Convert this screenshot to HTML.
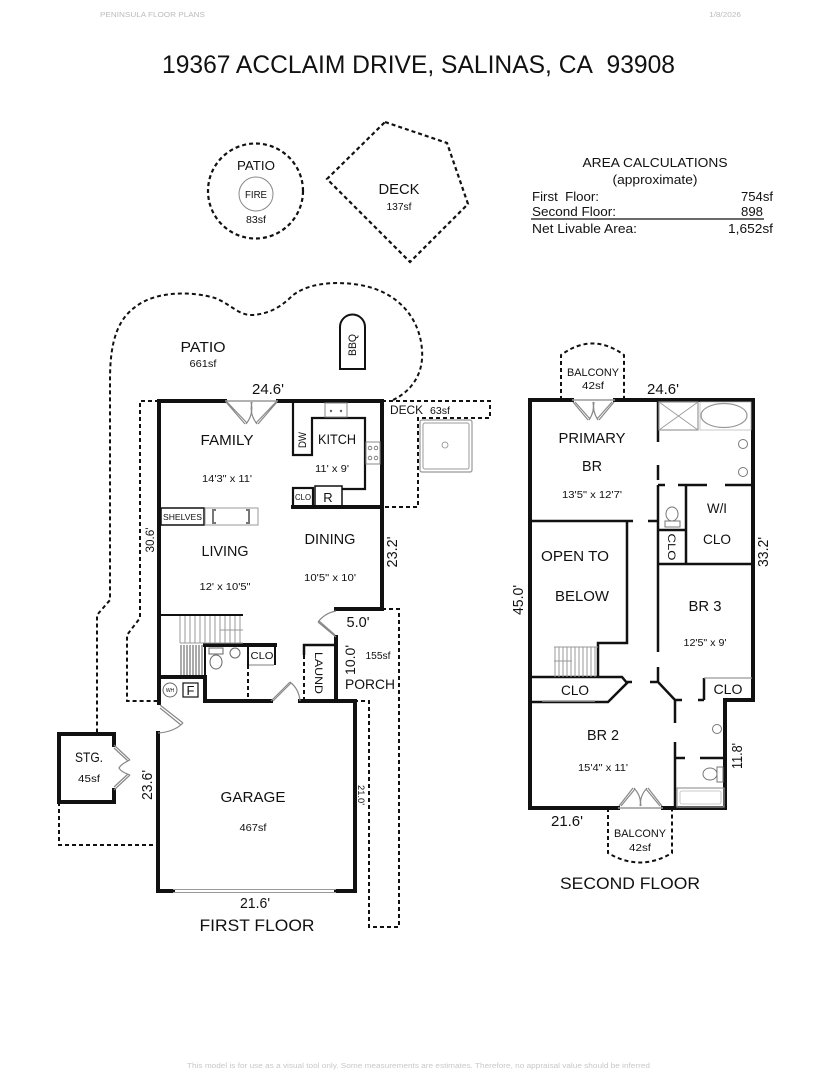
<!DOCTYPE html>
<html><head><meta charset="utf-8"><style>
html,body{margin:0;padding:0;background:#fff;}
svg{display:block;}
text{font-family:"Liberation Sans",Arial,sans-serif;fill:#111;}
</style></head><body>
<svg width="835" height="1080" viewBox="0 0 835 1080" xmlns="http://www.w3.org/2000/svg">
<!-- header -->
<text x="100" y="17" font-size="7" style="fill:#bbb" textLength="105" lengthAdjust="spacingAndGlyphs">PENINSULA FLOOR PLANS</text>
<text x="709" y="17" font-size="7" style="fill:#bbb" textLength="32" lengthAdjust="spacingAndGlyphs">1/8/2026</text>
<text x="162" y="73" font-size="25" textLength="513" lengthAdjust="spacingAndGlyphs">19367 ACCLAIM DRIVE, SALINAS, CA&#160; 93908</text>

<!-- top patio & deck -->
<g fill="none" stroke="#111" stroke-width="2.2" stroke-dasharray="4,3">
<circle cx="255.5" cy="191" r="47.5"/>
<polygon points="385,122 447,143 468,204 410,262 327,179"/>
</g>
<circle cx="256" cy="194" r="17" fill="none" stroke="#888" stroke-width="1"/>
<text x="256" y="170" font-size="13" text-anchor="middle" textLength="38" lengthAdjust="spacingAndGlyphs">PATIO</text>
<text x="256" y="198" font-size="10" text-anchor="middle" textLength="22" lengthAdjust="spacingAndGlyphs">FIRE</text>
<text x="256" y="223" font-size="10" text-anchor="middle" textLength="20" lengthAdjust="spacingAndGlyphs">83sf</text>
<text x="399" y="194" font-size="15" text-anchor="middle" textLength="41" lengthAdjust="spacingAndGlyphs">DECK</text>
<text x="399" y="210" font-size="10" text-anchor="middle" textLength="25" lengthAdjust="spacingAndGlyphs">137sf</text>

<!-- area calc -->
<text x="655" y="167" font-size="13" text-anchor="middle" textLength="145" lengthAdjust="spacingAndGlyphs">AREA CALCULATIONS</text>
<text x="655" y="184" font-size="13" text-anchor="middle" textLength="85" lengthAdjust="spacingAndGlyphs">(approximate)</text>
<text x="532" y="201" font-size="12.5" textLength="67" lengthAdjust="spacingAndGlyphs">First&#160; Floor:</text>
<text x="773" y="201" font-size="12.5" text-anchor="end" textLength="32" lengthAdjust="spacingAndGlyphs">754sf</text>
<text x="532" y="216" font-size="12.5" textLength="84" lengthAdjust="spacingAndGlyphs">Second Floor:</text>
<text x="763" y="216" font-size="12.5" text-anchor="end" textLength="22" lengthAdjust="spacingAndGlyphs">898</text>
<line x1="531" y1="219" x2="764" y2="219" stroke="#111" stroke-width="1.3"/>
<text x="532" y="233" font-size="12.5" textLength="105" lengthAdjust="spacingAndGlyphs">Net Livable Area:</text>
<text x="773" y="233" font-size="12.5" text-anchor="end" textLength="45" lengthAdjust="spacingAndGlyphs">1,652sf</text>

<!-- ================= FIRST FLOOR ================= -->
<g fill="none" stroke="#111" stroke-width="2" stroke-dasharray="4,3">
<path d="M393,400 C410,392 424,375 422,350 C420,320 400,292 360,285 C330,280 305,285 292,296 C280,308 268,314 252,315 C238,315 232,305 215,298 C195,292 160,290 138,305 C118,318 110,340 110,380 L110,600 L97,615 L97,733"/>
<path d="M159,401 L140,401 L140,618 L127,635 L127,701 L159,701"/>
<path d="M59,802 L59,845 L158,845"/>
<path d="M382,401 L490,401 L490,418 L418,418 L418,507 L382,507"/>
<path d="M382,609 L399,609 L399,927 L369,927 L369,701 L355,701"/>
<path d="M304,655 L304,701"/>
<path d="M248,665 L248,701"/>
</g>

<!-- BBQ -->
<path d="M340,369 L340,327 A12.5,12.5 0 0 1 365,327 L365,369 Z" fill="none" stroke="#111" stroke-width="2"/>
<text transform="translate(356,345) rotate(-90)" font-size="11" text-anchor="middle" textLength="22" lengthAdjust="spacingAndGlyphs">BBQ</text>
<text x="203" y="352" font-size="15" text-anchor="middle" textLength="45" lengthAdjust="spacingAndGlyphs">PATIO</text>
<text x="203" y="367" font-size="10" text-anchor="middle" textLength="27" lengthAdjust="spacingAndGlyphs">661sf</text>
<text x="268" y="394" font-size="15" text-anchor="middle" textLength="32" lengthAdjust="spacingAndGlyphs">24.6'</text>
<text x="390" y="414" font-size="12" textLength="33" lengthAdjust="spacingAndGlyphs">DECK</text>
<text x="430" y="414" font-size="10" textLength="20" lengthAdjust="spacingAndGlyphs">63sf</text>
<rect x="420" y="420" width="52" height="52" rx="2" fill="none" stroke="#999" stroke-width="1.2"/>
<rect x="423" y="423" width="46" height="46" rx="2" fill="none" stroke="#999" stroke-width="1"/>
<circle cx="445" cy="445" r="3" fill="none" stroke="#888" stroke-width="0.8"/>

<!-- main walls -->
<g fill="none" stroke="#111" stroke-width="4" stroke-linecap="square">
<path d="M159,401 L225,401 M278,401 L382,401 L382,609 L336,609"/>
<path d="M336,637 L336,701"/>
<path d="M159,401 L159,703"/>
<path d="M159,677 L205,677 L205,701 L271,701 M300,701 L355,701 L355,891 L336,891 M173,891 L158,891 L158,733"/>
<path d="M293,507 L382,507"/>
<path d="M205,645 L275,645"/>
<path d="M59,734 L114,734 L114,745 M59,734 L59,802 L114,802 L114,790"/>
</g>
<line x1="173" y1="889.5" x2="336" y2="889.5" stroke="#999" stroke-width="1"/>
<line x1="173" y1="892.5" x2="336" y2="892.5" stroke="#999" stroke-width="1"/>
<line x1="225" y1="401" x2="278" y2="401" stroke="#999" stroke-width="1.5"/>
<g fill="none" stroke="#888" stroke-width="1.2">
<path d="M226,402 L245,424 M227,402 L247,423"/>
<path d="M277,402 L258,424 M276,402 L256,423"/>
<path d="M246,424 Q254,414 251,402"/>
<path d="M257,424 Q249,414 252,402"/>
<path d="M336,637 L318,622 M335,635 L319,621"/>
<path d="M318,622 Q325,613 336,611"/>
<path d="M271,701 L290,682 M273,701 L291,683"/>
<path d="M290,682 Q299,689 300,701"/>
<path d="M160,705 L183,723 M160,708 L181,725"/>
<path d="M183,723 Q174,732 158,733"/>
<path d="M114,745 L130,760 M114,748 L128,761"/>
<path d="M114,790 L130,775 M114,787 L128,774"/>
<path d="M130,760 Q121,764 119,768 Q121,772 130,775"/>
</g>

<!-- kitchen -->
<g fill="none" stroke="#111" stroke-width="2.2">
<path d="M293,401 L293,455 L312,455 L312,418 L365,418 L365,489 L342,489"/>
<rect x="293" y="488" width="20" height="19"/>
<rect x="315" y="486" width="27" height="21" stroke-width="1.5"/>
</g>
<rect x="325" y="403" width="22" height="14" fill="none" stroke="#888" stroke-width="1"/>
<circle cx="331" cy="411" r="1.2" fill="#666"/><circle cx="341" cy="411" r="1.2" fill="#666"/>
<rect x="366" y="442" width="14" height="22" fill="none" stroke="#888" stroke-width="1"/>
<circle cx="370" cy="448" r="1.8" fill="none" stroke="#666" stroke-width="0.8"/><circle cx="376" cy="448" r="1.8" fill="none" stroke="#666" stroke-width="0.8"/>
<circle cx="370" cy="458" r="1.8" fill="none" stroke="#666" stroke-width="0.8"/><circle cx="376" cy="458" r="1.8" fill="none" stroke="#666" stroke-width="0.8"/>
<text transform="translate(306,440) rotate(-90)" font-size="11" text-anchor="middle" textLength="16" lengthAdjust="spacingAndGlyphs">DW</text>
<text x="337" y="444" font-size="14" text-anchor="middle" textLength="38" lengthAdjust="spacingAndGlyphs">KITCH</text>
<text x="332" y="472" font-size="10" text-anchor="middle" textLength="34" lengthAdjust="spacingAndGlyphs">11' x 9'</text>
<text x="303" y="500" font-size="8" text-anchor="middle" textLength="16" lengthAdjust="spacingAndGlyphs">CLO</text>
<text x="328" y="502" font-size="13" text-anchor="middle">R</text>

<text x="227" y="445" font-size="15" text-anchor="middle" textLength="53" lengthAdjust="spacingAndGlyphs">FAMILY</text>
<text x="227" y="482" font-size="10" text-anchor="middle" textLength="50" lengthAdjust="spacingAndGlyphs">14'3" x 11'</text>

<rect x="161" y="508" width="43" height="17" fill="none" stroke="#111" stroke-width="1.5"/>
<text x="182.5" y="520" font-size="8" text-anchor="middle" textLength="39" lengthAdjust="spacingAndGlyphs">SHELVES</text>
<rect x="205" y="508" width="53" height="17" fill="none" stroke="#999" stroke-width="1"/>
<path d="M216,510 L213,510 L213,523 L216,523 M246,510 L249,510 L249,523 L246,523" fill="none" stroke="#777" stroke-width="2"/>

<text x="225" y="556" font-size="15" text-anchor="middle" textLength="47" lengthAdjust="spacingAndGlyphs">LIVING</text>
<text x="225" y="590" font-size="10" text-anchor="middle" textLength="51" lengthAdjust="spacingAndGlyphs">12' x 10'5"</text>
<text x="330" y="544" font-size="15" text-anchor="middle" textLength="51" lengthAdjust="spacingAndGlyphs">DINING</text>
<text x="330" y="581" font-size="10" text-anchor="middle" textLength="52" lengthAdjust="spacingAndGlyphs">10'5" x 10'</text>
<text transform="translate(154,540) rotate(-90)" font-size="12" text-anchor="middle" textLength="25" lengthAdjust="spacingAndGlyphs">30.6'</text>
<text transform="translate(397,552) rotate(-90)" font-size="15" text-anchor="middle" textLength="31" lengthAdjust="spacingAndGlyphs">23.2'</text>

<!-- stairs -->
<line x1="159" y1="615" x2="243" y2="615" stroke="#111" stroke-width="2"/>
<g stroke="#999" stroke-width="1">
<line x1="180" y1="616" x2="180" y2="643"/><line x1="185" y1="616" x2="185" y2="643"/><line x1="190" y1="616" x2="190" y2="643"/><line x1="195" y1="616" x2="195" y2="643"/><line x1="200" y1="616" x2="200" y2="643"/><line x1="205" y1="616" x2="205" y2="643"/><line x1="210" y1="616" x2="210" y2="643"/><line x1="215" y1="616" x2="215" y2="643"/><line x1="220" y1="616" x2="220" y2="643"/><line x1="225" y1="616" x2="225" y2="643"/><line x1="230" y1="616" x2="230" y2="643"/><line x1="235" y1="616" x2="235" y2="643"/><line x1="240" y1="616" x2="240" y2="643"/>
<line x1="180" y1="643" x2="243" y2="643"/>
<line x1="220" y1="630" x2="243" y2="630"/>
</g>
<g stroke="#555" stroke-width="1">
<line x1="181" y1="645" x2="181" y2="675"/><line x1="184" y1="645" x2="184" y2="675"/><line x1="187" y1="645" x2="187" y2="675"/><line x1="190" y1="645" x2="190" y2="675"/><line x1="193" y1="645" x2="193" y2="675"/><line x1="196" y1="645" x2="196" y2="675"/><line x1="199" y1="645" x2="199" y2="675"/><line x1="202" y1="645" x2="202" y2="675"/>
</g>
<line x1="205" y1="645" x2="205" y2="677" stroke="#111" stroke-width="2"/>
<ellipse cx="216" cy="662" rx="6" ry="7" fill="none" stroke="#666" stroke-width="1"/>
<rect x="209" y="648" width="14" height="6" fill="none" stroke="#666" stroke-width="1"/>
<circle cx="235" cy="653" r="5" fill="none" stroke="#666" stroke-width="1"/>
<path d="M248,645 L248,665 M275,645 L275,665" fill="none" stroke="#111" stroke-width="2"/>
<line x1="249" y1="665" x2="274" y2="665" stroke="#999" stroke-width="1.2"/>
<text x="262" y="659" font-size="10" text-anchor="middle" textLength="23" lengthAdjust="spacingAndGlyphs">CLO</text>
<circle cx="170" cy="690" r="7" fill="none" stroke="#666" stroke-width="1"/>
<text x="170" y="692" font-size="5" text-anchor="middle">WH</text>
<rect x="183" y="683" width="15" height="14" fill="none" stroke="#111" stroke-width="1.2"/>
<text x="190.5" y="695" font-size="13" text-anchor="middle">F</text>

<!-- laundry / porch -->
<path d="M304,655 L304,645 L336,645" fill="none" stroke="#111" stroke-width="2.5"/>
<text transform="translate(315,673) rotate(90)" font-size="11" text-anchor="middle" textLength="42" lengthAdjust="spacingAndGlyphs">LAUND</text>
<text x="358" y="627" font-size="15" text-anchor="middle" textLength="23" lengthAdjust="spacingAndGlyphs">5.0'</text>
<text transform="translate(355,660) rotate(-90)" font-size="14" text-anchor="middle" textLength="30" lengthAdjust="spacingAndGlyphs">10.0'</text>
<text x="378" y="659" font-size="10" text-anchor="middle" textLength="25" lengthAdjust="spacingAndGlyphs">155sf</text>
<text x="370" y="689" font-size="14" text-anchor="middle" textLength="50" lengthAdjust="spacingAndGlyphs">PORCH</text>

<text x="89" y="762" font-size="14" text-anchor="middle" textLength="28" lengthAdjust="spacingAndGlyphs">STG.</text>
<text x="89" y="782" font-size="10" text-anchor="middle" textLength="22" lengthAdjust="spacingAndGlyphs">45sf</text>
<text transform="translate(152,785) rotate(-90)" font-size="15" text-anchor="middle" textLength="30" lengthAdjust="spacingAndGlyphs">23.6'</text>
<text x="253" y="802" font-size="15" text-anchor="middle" textLength="65" lengthAdjust="spacingAndGlyphs">GARAGE</text>
<text x="253" y="831" font-size="10" text-anchor="middle" textLength="27" lengthAdjust="spacingAndGlyphs">467sf</text>
<text transform="translate(358,795) rotate(90)" font-size="9" text-anchor="middle" textLength="20" lengthAdjust="spacingAndGlyphs">21.0'</text>
<text x="255" y="908" font-size="15" text-anchor="middle" textLength="30" lengthAdjust="spacingAndGlyphs">21.6'</text>
<text x="257" y="931" font-size="17" text-anchor="middle" textLength="115" lengthAdjust="spacingAndGlyphs">FIRST FLOOR</text>

<!-- ================= SECOND FLOOR ================= -->
<g fill="none" stroke="#111" stroke-width="2" stroke-dasharray="4,3">
<path d="M561,400 L561,355 Q592.5,332 624,355 L624,400"/>
<path d="M608,808 L608,853 Q640,872 672,853 L672,808"/>
</g>
<text x="593" y="376" font-size="11" text-anchor="middle" textLength="52" lengthAdjust="spacingAndGlyphs">BALCONY</text>
<text x="593" y="389" font-size="10" text-anchor="middle" textLength="22" lengthAdjust="spacingAndGlyphs">42sf</text>
<text x="663" y="394" font-size="15" text-anchor="middle" textLength="32" lengthAdjust="spacingAndGlyphs">24.6'</text>

<g fill="none" stroke="#111" stroke-width="4" stroke-linecap="square">
<path d="M572,400 L530,400 L530,808 L618,808 M663,808 L725,808 L725,700 L753,700 L753,400 L615,400"/>
</g>
<line x1="572" y1="400" x2="615" y2="400" stroke="#999" stroke-width="1.5"/>
<line x1="618" y1="808" x2="663" y2="808" stroke="#999" stroke-width="1.5"/>
<g fill="none" stroke="#888" stroke-width="1.2">
<path d="M573,402 L588,420 M575,402 L590,419 M589,420 Q595,411 593,402"/>
<path d="M614,402 L599,420 M612,402 L597,419 M598,420 Q592,411 594,402"/>
<path d="M619,806 L633,788 M621,806 L635,789 M634,788 Q642,797 640,806"/>
<path d="M662,806 L648,788 M660,806 L646,789 M647,788 Q639,797 641,806"/>
</g>

<g fill="none" stroke="#111" stroke-width="2.5">
<path d="M658,400 L658,442 M658,465 L658,480 M658,485 L658,652 M658,667 L658,682 L675,700 L682,700 M698,700 L704,700"/>
<path d="M658,485 L665,485 M678,485 L707,485 M725,485 L753,485"/>
<path d="M686,485 L686,564 M658,530 L686,530 M658,564 L753,564"/>
<path d="M530,521 L633,521 M648,521 L658,521"/>
<path d="M627,521 L627,643 L598,643 L598,677"/>
<path d="M530,677 L622,677 L627,683 L608,702 L530,702"/>
<path d="M627,682 L632,682 M650,682 L657,682"/>
<path d="M704,678 L704,700"/>
<path d="M675,700 L675,723 M675,742 L675,808"/>
<path d="M675,758 L685,758 M700,758 L725,758"/>
</g>
<line x1="704" y1="678" x2="752" y2="678" stroke="#999" stroke-width="1.2"/>
<line x1="542" y1="701" x2="595" y2="701" stroke="#999" stroke-width="1.5"/>

<rect x="659" y="402" width="39" height="28" fill="none" stroke="#999" stroke-width="1.2"/>
<path d="M659,402 L698,430 M698,402 L659,430" stroke="#999" stroke-width="0.8"/>
<ellipse cx="724" cy="415.5" rx="23" ry="12" fill="none" stroke="#999" stroke-width="1.2"/>
<rect x="700" y="402" width="51" height="28" fill="none" stroke="#bbb" stroke-width="0.8"/>
<circle cx="743" cy="444" r="4.5" fill="none" stroke="#777" stroke-width="1"/>
<circle cx="743" cy="472" r="4.5" fill="none" stroke="#777" stroke-width="1"/>
<ellipse cx="672" cy="514" rx="6" ry="7" fill="none" stroke="#777" stroke-width="1"/>
<rect x="665" y="521" width="15" height="6" fill="none" stroke="#777" stroke-width="1"/>
<circle cx="717" cy="729" r="4.5" fill="none" stroke="#777" stroke-width="1"/>
<ellipse cx="710" cy="774" rx="7" ry="6" fill="none" stroke="#777" stroke-width="1"/>
<rect x="717" y="767" width="6" height="15" fill="none" stroke="#777" stroke-width="1"/>
<rect x="677" y="788" width="47" height="19" fill="none" stroke="#999" stroke-width="1.2"/>
<rect x="680" y="791" width="41" height="13" rx="2" fill="none" stroke="#bbb" stroke-width="0.8"/>

<g stroke="#999" stroke-width="1">
<line x1="554" y1="647" x2="598" y2="647"/>
<line x1="555" y1="647" x2="555" y2="677"/><line x1="559" y1="647" x2="559" y2="677"/><line x1="563" y1="647" x2="563" y2="677"/><line x1="567" y1="647" x2="567" y2="677"/><line x1="571" y1="647" x2="571" y2="677"/><line x1="575" y1="647" x2="575" y2="677"/><line x1="579" y1="647" x2="579" y2="677"/><line x1="583" y1="647" x2="583" y2="677"/><line x1="587" y1="647" x2="587" y2="677"/><line x1="591" y1="647" x2="591" y2="677"/><line x1="595" y1="647" x2="595" y2="677"/>
<line x1="554" y1="661" x2="572" y2="661"/>
</g>

<text x="592" y="443" font-size="15" text-anchor="middle" textLength="67" lengthAdjust="spacingAndGlyphs">PRIMARY</text>
<text x="592" y="471" font-size="15" text-anchor="middle" textLength="20" lengthAdjust="spacingAndGlyphs">BR</text>
<text x="592" y="498" font-size="10" text-anchor="middle" textLength="60" lengthAdjust="spacingAndGlyphs">13'5" x 12'7'</text>
<text x="717" y="513" font-size="14" text-anchor="middle" textLength="20" lengthAdjust="spacingAndGlyphs">W/I</text>
<text x="717" y="544" font-size="14" text-anchor="middle" textLength="28" lengthAdjust="spacingAndGlyphs">CLO</text>
<text transform="translate(668,547) rotate(90)" font-size="11" text-anchor="middle" textLength="27" lengthAdjust="spacingAndGlyphs">CLO</text>
<text transform="translate(768,552) rotate(-90)" font-size="15" text-anchor="middle" textLength="30" lengthAdjust="spacingAndGlyphs">33.2'</text>
<text x="575" y="561" font-size="15" text-anchor="middle" textLength="68" lengthAdjust="spacingAndGlyphs">OPEN TO</text>
<text x="582" y="601" font-size="15" text-anchor="middle" textLength="54" lengthAdjust="spacingAndGlyphs">BELOW</text>
<text transform="translate(523,600) rotate(-90)" font-size="15" text-anchor="middle" textLength="30" lengthAdjust="spacingAndGlyphs">45.0'</text>
<text x="705" y="611" font-size="15" text-anchor="middle" textLength="33" lengthAdjust="spacingAndGlyphs">BR 3</text>
<text x="705" y="646" font-size="10" text-anchor="middle" textLength="43" lengthAdjust="spacingAndGlyphs">12'5" x 9'</text>
<text x="575" y="695" font-size="14" text-anchor="middle" textLength="28" lengthAdjust="spacingAndGlyphs">CLO</text>
<text x="728" y="694" font-size="14" text-anchor="middle" textLength="29" lengthAdjust="spacingAndGlyphs">CLO</text>
<text x="603" y="740" font-size="15" text-anchor="middle" textLength="32" lengthAdjust="spacingAndGlyphs">BR 2</text>
<text x="603" y="771" font-size="10" text-anchor="middle" textLength="50" lengthAdjust="spacingAndGlyphs">15'4" x 11'</text>
<text transform="translate(742,756) rotate(-90)" font-size="15" text-anchor="middle" textLength="26" lengthAdjust="spacingAndGlyphs">11.8'</text>
<text x="567" y="826" font-size="15" text-anchor="middle" textLength="32" lengthAdjust="spacingAndGlyphs">21.6'</text>
<text x="640" y="837" font-size="11" text-anchor="middle" textLength="52" lengthAdjust="spacingAndGlyphs">BALCONY</text>
<text x="640" y="851" font-size="10" text-anchor="middle" textLength="22" lengthAdjust="spacingAndGlyphs">42sf</text>
<text x="630" y="889" font-size="17" text-anchor="middle" textLength="140" lengthAdjust="spacingAndGlyphs">SECOND FLOOR</text>

<text x="187" y="1068" font-size="7" style="fill:#c8c8c8" textLength="463" lengthAdjust="spacingAndGlyphs">This model is for use as a visual tool only. Some measurements are estimates. Therefore, no appraisal value should be inferred</text>
</svg>
</body></html>
